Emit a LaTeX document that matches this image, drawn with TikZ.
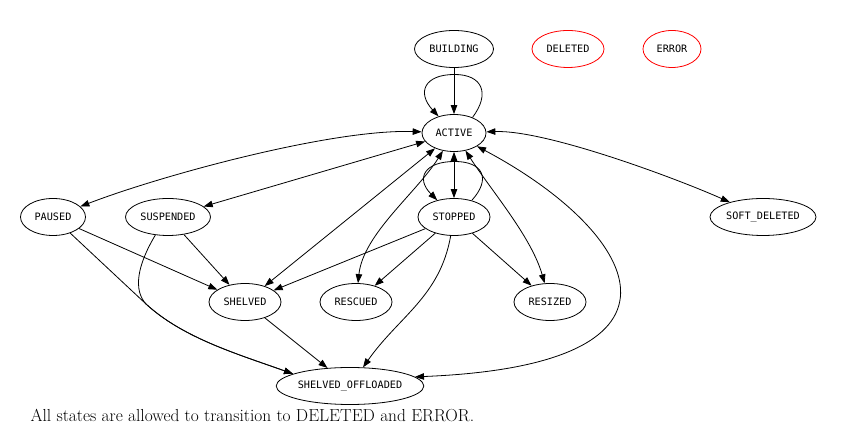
\documentclass[tikz,border=0pt]{standalone}
\usepackage{fontspec}
\usetikzlibrary{shapes.geometric,arrows.meta}
\newfontfamily\statefont{DejaVu Sans Mono}
\tikzset{
  state/.style={ellipse, draw, line width=0.8pt, inner sep=0pt, minimum height=37pt,
    font=\statefont\fontsize{10.2}{12}\selectfont},
  gone/.style={state, draw=red},
  tip/.style={-{Triangle[length=9pt,width=6.5pt]}},
  twoway/.style={{Triangle[length=9pt,width=6.5pt]}-{Triangle[length=9pt,width=6.5pt]}},
}
\begin{document}
\begin{tikzpicture}[x=1pt,y=1pt]
  \useasboundingbox (0,0) rectangle (843,443);
  \draw
    (454,394) node[state,minimum width=79pt] (building){BUILDING}
    (568,394) node[gone,minimum width=72pt] (deleted){DELETED}
    (672,394) node[gone,minimum width=58pt] (error){ERROR}
    (454,310) node[state,minimum width=64pt] (active){ACTIVE}
    (53,226) node[state,minimum width=65pt] (paused){PAUSED}
    (168,226) node[state,minimum width=85pt] (suspended){SUSPENDED}
    (454,226) node[state,minimum width=72pt] (stopped){STOPPED}
    (763,226) node[state,minimum width=106pt] (softdeleted){SOFT\_DELETED}
    (245,141) node[state,minimum width=72pt] (shelved){SHELVED}
    (356,141) node[state,minimum width=72pt] (rescued){RESCUED}
    (550,141) node[state,minimum width=72pt] (resized){RESIZED}
    (350,57) node[state,minimum width=143pt] (offloaded){SHELVED\_OFFLOADED}
    (27,28) node[anchor=west,font=\fontsize{17.4}{20}\selectfont] (note){All states are allowed to transition to DELETED and ERROR.};
  \coordinate (merge) at (146,139);
  \begin{scope}[line width=0.8pt]
    \draw[tip] (building) -- (active);
    \draw[tip] (active.40) .. controls +(18,24) and +(28,0) .. ++(-18,43)
      .. controls +(-30,0) and +(-22,24) .. (active.133);
    \draw[twoway] (active) to[out=178,in=21,looseness=0.65] (paused);
    \draw[twoway] (active) -- (suspended);
    \draw[twoway] (active) -- (shelved);
    \draw[twoway] (active) to[out=-122,in=84,looseness=0.8] (rescued);
    \draw[twoway] (active) -- (stopped);
    \draw[twoway] (active) to[out=-57,in=106,looseness=0.8] (resized);
    \draw[twoway] (active.-30) .. controls +(160,-85) and +(300,12) .. (offloaded.8);
    \draw[twoway] (active) to[out=2,in=156,looseness=0.6] (softdeleted);
    \draw[tip] (stopped.43) .. controls +(20,22) and +(28,0) .. ++(-17,39)
      .. controls +(-30,0) and +(-22,22) .. (stopped.135);
    \draw[tip] (paused) -- (shelved);
    \draw[tip] (paused) -- (merge) .. controls +(37,-34) and +(-56,20) .. (offloaded.168);
    \draw[tip] (suspended) -- (shelved);
    \draw[tip] (suspended.-125) .. controls +(-18,-30) and +(-13,14) .. (merge) .. controls +(37,-34) and +(-56,20) .. (offloaded.168);
    \draw[tip] (stopped) -- (shelved);
    \draw[tip] (stopped) -- (rescued);
    \draw[tip] (stopped) to[out=-100,in=55] (offloaded);
    \draw[tip] (stopped) -- (resized);
    \draw[tip] (shelved) -- (offloaded);
  \end{scope}
\end{tikzpicture}
\end{document}
